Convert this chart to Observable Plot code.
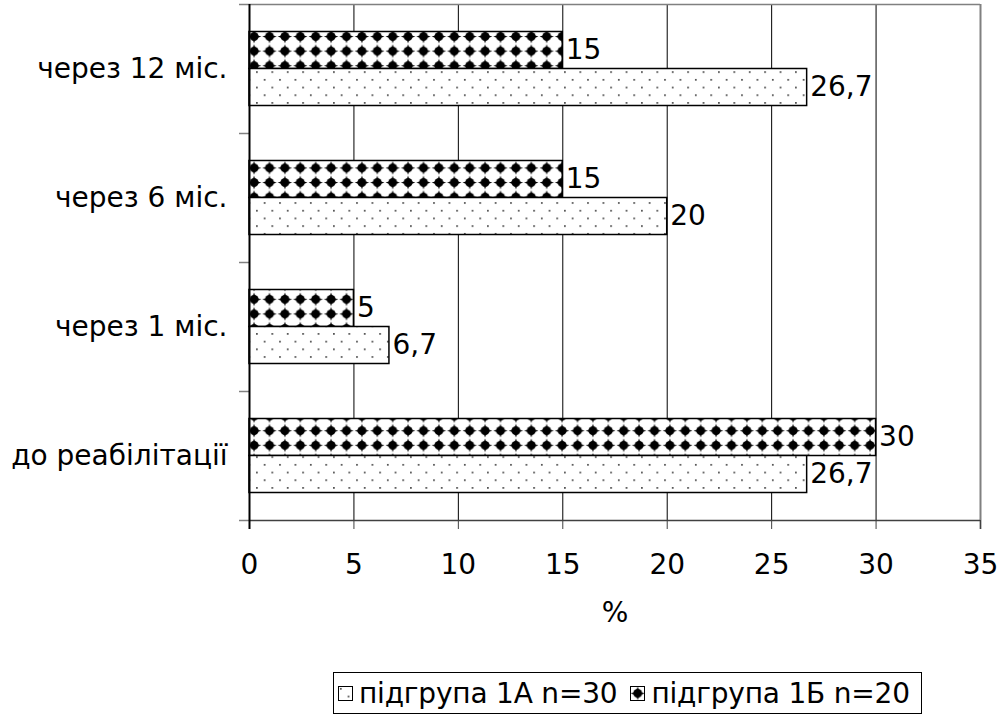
<!DOCTYPE html>
<html>
<head>
<meta charset="utf-8">
<script src="https://cdn.jsdelivr.net/npm/d3@7"></script>
<script src="https://cdn.jsdelivr.net/npm/@observablehq/plot@0.6"></script>
<style>
  body { margin: 0; background: #fff; font-family: "DejaVu Sans", sans-serif; }
  #legend {
    box-sizing: border-box;
    margin: 8px 0 0 333px;
    width: 589px;
    height: 42px;
    border: 1px solid #000;
    display: flex;
    align-items: center;
    font-size: 28px;
    color: #000;
    white-space: nowrap;
    letter-spacing: -0.2px;
  }
  #legend .item { display: flex; align-items: center; }
  #legend .item + .item { margin-left: 9px; }
  #legend svg { margin: 0 6px 0 4px; }
</style>
</head>
<body>
<div id="chart"></div>
<div id="legend"></div>
<script>
// Periods of observation, listed top to bottom
const periods = ["через 12 міс.", "через 6 міс.", "через 1 міс.", "до реабілітації"];
// Share of patients, %, per subgroup
const group1A = [26.7, 20, 6.7, 26.7];
const group1B = [15, 15, 5, 30];
const seriesNames = ["підгрупа 1А n=30", "підгрупа 1Б n=20"];
const xTicks = [0, 5, 10, 15, 20, 25, 30, 35];
const xLabel = "%";

const rowsA = periods.map((p, i) => ({period: p, group: seriesNames[0], value: group1A[i]}));
const rowsB = periods.map((p, i) => ({period: p, group: seriesNames[1], value: group1B[i]}));
const fmt = (v) => String(v).replace(".", ",");

const W = 1006, H = 664;
const FONT = 28;

// Hatch fills: fine staggered dots for 1А, diamond checkerboard for 1Б
function patternDefs() {
  const defs = d3.create("svg:defs");
  const dots = defs.append("pattern")
    .attr("id", "dots").attr("patternUnits", "userSpaceOnUse")
    .attr("width", 15.4).attr("height", 15.4);
  dots.append("rect").attr("width", 15.4).attr("height", 15.4).attr("fill", "#fff");
  dots.append("rect").attr("x", 2).attr("y", 2).attr("width", 1.6).attr("height", 1.6).attr("fill", "#333");
  dots.append("rect").attr("x", 9.7).attr("y", 9.7).attr("width", 1.6).attr("height", 1.6).attr("fill", "#333");

  const w = 15.4, h = 14.6;
  const chk = defs.append("pattern")
    .attr("id", "checker").attr("patternUnits", "userSpaceOnUse")
    .attr("width", w).attr("height", h);
  chk.append("rect").attr("width", w).attr("height", h).attr("fill", "#fff");
  const cx = w / 2, cy = h / 2, rx = 7.2, ry = 6.9;
  chk.append("path")
    .attr("d", `M${cx},${cy - ry} Q${cx + 1.2},${cy - 1.2} ${cx + rx},${cy} Q${cx + 1.2},${cy + 1.2} ${cx},${cy + ry} Q${cx - 1.2},${cy + 1.2} ${cx - rx},${cy} Q${cx - 1.2},${cy - 1.2} ${cx},${cy - ry}Z`)
    .attr("fill", "#000");
  chk.append("circle").attr("cx", cx).attr("cy", cy).attr("r", 4.4).attr("fill", "#000");
  return defs.node();
}

// Category-boundary ticks on the left, plus the top and bottom frame lines
function bandEdges(index, scales) {
  const {x, y} = scales;
  const step = y(periods[1]) - y(periods[0]);
  const edges = periods.map((p) => y(p)).concat([y(periods[periods.length - 1]) + step]);
  const x0 = x(0), x1 = x(35);
  const g = d3.create("svg:g").attr("fill", "none");
  g.selectAll("line.tick").data(edges).join("line")
    .attr("x1", x0 - 10).attr("x2", x0).attr("y1", (d) => d + 0.5).attr("y2", (d) => d + 0.5)
    .attr("stroke", "#808080").attr("stroke-width", 1.5);
  g.selectAll("line.edge").data([edges[0], edges[edges.length - 1]]).join("line")
    .attr("x1", x0).attr("x2", x1).attr("y1", (d) => d + 0.5).attr("y2", (d) => d + 0.5)
    .attr("stroke", (d, i) => i === 0 ? "#808080" : "#404040").attr("stroke-width", 1.5);
  return g.node();
}

const chart = Plot.plot({
  width: W,
  height: H,
  marginLeft: 249,
  marginRight: 26,
  marginTop: 4,
  marginBottom: 144,
  style: {fontFamily: "DejaVu Sans, sans-serif", fontSize: FONT + "px", color: "#000", background: "#fff"},
  x: {domain: [0, 35], ticks: xTicks},
  y: {domain: periods, padding: 0},
  marks: [
    patternDefs,
    Plot.ruleX(xTicks.filter((t) => t > 0 && t < 35), {stroke: "#000", strokeWidth: 1}),
    Plot.ruleX([35], {stroke: "#808080", strokeWidth: 2, insetBottom: -9}),
    bandEdges,
    Plot.axisX({ticks: xTicks, tickSize: 9, tickPadding: 25, stroke: "#404040", label: null, fontSize: FONT}),
    Plot.axisY({tickSize: 0, tickPadding: 22, label: null, fontSize: FONT}),
    Plot.barX(rowsB, {x: "value", y: "period", fill: "url(#checker)", stroke: "#000", strokeWidth: 1.5, insetTop: 27.5, insetBottom: 64.5}),
    Plot.barX(rowsA, {x: "value", y: "period", fill: "url(#dots)", stroke: "#000", strokeWidth: 1.5, insetTop: 64.5, insetBottom: 27.5}),
    Plot.ruleX([0], {stroke: "#000", strokeWidth: 2, insetBottom: -9}),
    Plot.text(rowsB, {x: "value", y: "period", text: (d) => fmt(d.value), textAnchor: "start", dx: 3, dy: -18.5, fill: "#000", fontSize: FONT}),
    Plot.text(rowsA, {x: "value", y: "period", text: (d) => fmt(d.value), textAnchor: "start", dx: 3, dy: 18.5, fill: "#000", fontSize: FONT}),
    Plot.text([xLabel], {frameAnchor: "bottom", dy: 101, fill: "#000", fontSize: FONT})
  ]
});
document.getElementById("chart").appendChild(chart);

// Legend: a framed row of swatches and series names under the chart
const legend = d3.select("#legend");
const fills = ["url(#dots)", "url(#checker)"];
seriesNames.forEach((name, i) => {
  const item = legend.append("div").attr("class", "item");
  const sw = item.append("svg").attr("width", 15).attr("height", 15);
  sw.append("rect").attr("x", 0.5).attr("y", 0.5).attr("width", 14).attr("height", 14)
    .attr("fill", fills[i]).attr("stroke", "#000").attr("stroke-width", 1);
  item.append("span").text(name);
});
</script>
</body>
</html>
